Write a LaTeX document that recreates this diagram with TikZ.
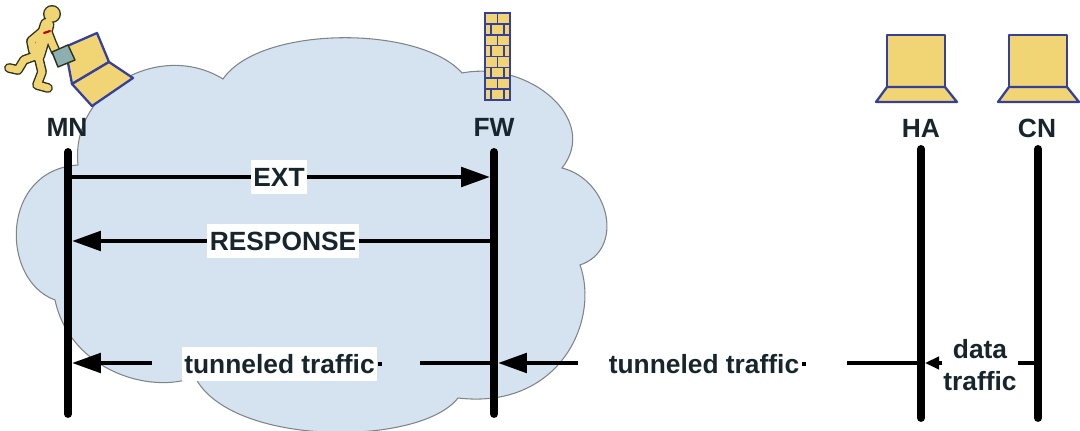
\documentclass[tikz,border=0pt]{standalone}
\usepackage{fontspec}
\setmainfont{Liberation Sans}
\usetikzlibrary{arrows.meta}

\definecolor{cloudfill}{HTML}{D5E2F0}
\definecolor{cloudline}{HTML}{7F8487}
\definecolor{inkdark}{HTML}{17252D}
\definecolor{iconyellow}{HTML}{F1D474}
\definecolor{iconblue}{HTML}{34409A}
\definecolor{caseteal}{HTML}{8EAFB0}
\definecolor{mandark}{HTML}{2A3320}

\tikzset{
  actor/.style={font=\fontsize{15}{17}\selectfont\bfseries, text=inkdark, inner sep=0pt},
  lifeline/.style={line width=4.5pt, line cap=round, black},
  msg/.style={line width=2.5pt, black},
  bigtip/.style={-{Triangle[length=16.5pt,width=11pt]}},
  smalltip/.style={-{Triangle[length=8pt,width=7pt]}},
  msglabel/.style={font=\fontsize{15}{18.5}\selectfont\bfseries, text=inkdark, fill=white,
    inner xsep=1.5pt, inner ysep=4pt, text height=10.8pt, text depth=0pt},
  datalabel/.style={font=\fontsize{15}{18.5}\selectfont\bfseries, text=inkdark, fill=white,
    inner sep=1pt, align=center},
  device/.style={fill=iconyellow, draw=iconblue, line width=1.3pt, line join=round},
  mortar/.style={draw=iconblue, line width=0.9pt},
}

\begin{document}
\begin{tikzpicture}[x=0.02cm, y=-0.02cm]

	\useasboundingbox (0,0) rectangle (1080,431);

	% Cloud
	\draw[fill=cloudfill, draw=cloudline, line width=0.6pt]
	(78,165) .. controls (70,90) and (160,40) .. (223,79)
	.. controls (260,25) and (420,25) .. (462,73)
	.. controls (530,60) and (600,120) .. (562,168)
	.. controls (610,180) and (625,250) .. (580,265)
	.. controls (600,320) and (560,410) .. (458,398)
	.. controls (420,447) and (230,447) .. (195,377)
	.. controls (150,395) and (70,370) .. (55,300)
	.. controls (0,280) and (0,170) .. (78,165) -- cycle;

	% Runner
	\begin{scope}[line cap=round, line join=round]
		\foreach \t/\l/\h/\c in {8.4pt/5.6pt/5.1pt/mandark, 6.8pt/4pt/4.3pt/iconyellow}{
			\draw[\c, line width=\l] (38,55) -- (24,60) -- (18,70) -- (9,68);
			\draw[\c, line width=\l] (38,55) -- (42,72) -- (37,85) -- (48,88);
			\draw[\c, line width=\l] (44,30) -- (31,41) -- (33,51);
			\draw[\c, line width=\l] (47,30) -- (52,43) -- (56,52);
			\draw[\c, line width=\t] (47,25) -- (38,55);
			\fill[\c] (52,14) circle (\h);
		}
		\draw[red!75!black, line width=1.2pt] (44,33) -- (50,31);
	\end{scope}

	% Laptop of MN
	\draw[device] (65,47) -- (97,33) -- (109,62) -- (72,84) -- cycle;
	\draw[device] (72,84) -- (109,62) -- (133,78) -- (92,106) -- cycle;
	\draw[fill=caseteal, draw=mandark, line width=0.8pt, line join=round]
	(52,52) -- (68,45) -- (75,60) -- (58,67) -- cycle;

	% Firewall
	\draw[fill=iconyellow, mortar] (485,13) rectangle (510,100);
	\foreach \r in {1,...,7}
		\draw[mortar] (485,{13+\r*10.875}) -- (510,{13+\r*10.875});
	\foreach \r in {0,2,4,6}
		\draw[mortar] (497.5,{13+\r*10.875}) -- (497.5,{13+(\r+1)*10.875});
	\foreach \r in {1,3,5,7}{
		\draw[mortar] (491,{13+\r*10.875}) -- (491,{13+(\r+1)*10.875});
		\draw[mortar] (504,{13+\r*10.875}) -- (504,{13+(\r+1)*10.875});
	}

	% Laptops of HA and CN
	\foreach \x in {916,1038}{
		\draw[device] (\x-29,35) rectangle (\x+29,87);
		\draw[device] (\x-29,87) -- (\x+29,87) -- (\x+41,102) -- (\x-40,102) -- cycle;
	}

	% Actors
	\node[actor] (mn) at (67,127) {MN};
	\node[actor] (fw) at (494,127) {FW};
	\node[actor] (ha) at (921,128) {HA};
	\node[actor] (cn) at (1037,128) {CN};

	\coordinate (mnTop) at (68,152);
	\coordinate (mnBot) at (68,414);
	\coordinate (fwTop) at (494,152);
	\coordinate (fwBot) at (494,414);
	\coordinate (haTop) at (921,149);
	\coordinate (haBot) at (921,418);
	\coordinate (cnTop) at (1038,149);
	\coordinate (cnBot) at (1038,418);

	\draw[lifeline] (mnTop) -- (mnBot);
	\draw[lifeline] (fwTop) -- (fwBot);
	\draw[lifeline] (haTop) -- (haBot);
	\draw[lifeline] (cnTop) -- (cnBot);

	% Messages
	\coordinate (extA) at (68,177);
	\coordinate (extB) at (490,177);
	\draw[msg, bigtip] (extA) -- node[msglabel] (ext) {EXT} (extB);

	\coordinate (rspA) at (494,241);
	\coordinate (rspB) at (72,241);
	\draw[msg, bigtip] (rspA) -- node[msglabel] (rsp) {RESPONSE} (rspB);

	% Tunnel row
	\coordinate (tunA) at (152,363);
	\coordinate (tunB) at (72,363);
	\coordinate (tunC) at (420,363);
	\coordinate (tunD) at (494,363);
	\coordinate (tunE) at (578,363);
	\coordinate (tunF) at (498,363);
	\coordinate (tunG) at (847,363);
	\coordinate (tunH) at (921,363);

	\draw[msg, bigtip] (tunA) -- (tunB);
	\node[msglabel] (tun1) at (279.5,364) {tunneled traffic};
	\draw[msg] (tun1.east) -- ++(4,0);
	\draw[msg] (tunC) -- (tunD);
	\draw[msg, bigtip] (tunE) -- (tunF);
	\node[msglabel, fill=none] (tun2) at (704,364) {tunneled traffic};
	\draw[msg] (tun2.east) -- ++(4,0);
	\draw[msg] (tunG) -- (tunH);

	\coordinate (datA) at (1038,363);
	\coordinate (datB) at (925,363);
	\draw[msg, smalltip] (datA) -- (datB);
	\node[datalabel] (dat) at (980,365) {data\\traffic};

\end{tikzpicture}
\end{document}
